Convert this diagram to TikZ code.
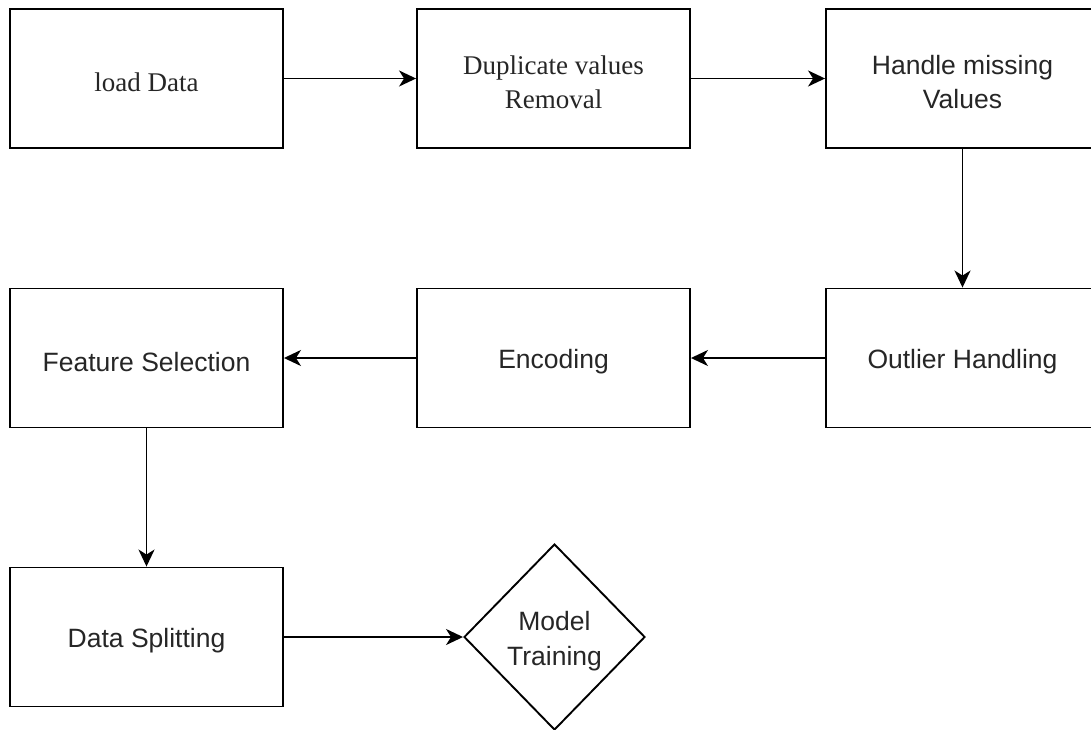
\documentclass[tikz,border=0pt]{standalone}
\usepackage{fontspec}
\setmainfont{Liberation Serif}
\newfontfamily\sansf{Liberation Sans}
\usetikzlibrary{arrows.meta,shapes.geometric}
\tikzset{
  box/.style={draw=black, line width=1.9pt, fill=white, minimum width=273pt, minimum height=139pt, inner sep=0pt},
  lbl/.style={inner sep=0pt, align=center, text=black!85, yshift=-4pt},
  sanslbl/.style={lbl, font=\sansf\fontsize{26.5}{34}\selectfont},
  seriflbl/.style={lbl, font=\fontsize{27}{34}\selectfont},
  decision/.style={draw=black, line width=1.9pt, fill=white, diamond, minimum width=181pt, minimum height=186pt, inner sep=0pt},
  conn/.style={line width=1.9pt, -{Stealth[length=17pt,width=16pt,inset=5pt]}}
}
\begin{document}
\begin{tikzpicture}[x=1pt,y=-1pt]
\useasboundingbox (0,0) rectangle (1091,730);
\clip (0,0) rectangle (1091,730);
\fill[white] (0,0) rectangle (1091,730);
\node[box, label={[seriflbl]center:load Data}] (load) at (146.5,78.5) {};
\node[box, label={[seriflbl]center:{Duplicate values\\Removal}}] (dup) at (553.5,78.5) {};
\node[box, label={[sanslbl]center:{Handle missing\\Values}}] (handle) at (962.5,78.5) {};
\node[box, label={[sanslbl]center:Outlier Handling}] (outlier) at (962.5,358) {};
\node[box, label={[sanslbl]center:Encoding}] (enc) at (553.5,358) {};
\node[box, label={[sanslbl]center:Feature Selection}] (feat) at (146.5,358) {};
\node[box, label={[sanslbl]center:Data Splitting}] (split) at (146.5,637) {};
\node[decision, label={[sanslbl, font=\sansf\fontsize{26.5}{35}\selectfont]center:{Model\\Training}}] (model) at (554.5,637) {};
\draw[conn] (load) -- (dup);
\draw[conn] (dup) -- (handle);
\draw[conn] (handle) -- (outlier);
\draw[conn] (outlier) -- (enc);
\draw[conn] (enc) -- (feat);
\draw[conn] (feat) -- (split);
\draw[conn] (split) -- (model);
\end{tikzpicture}
\end{document}
